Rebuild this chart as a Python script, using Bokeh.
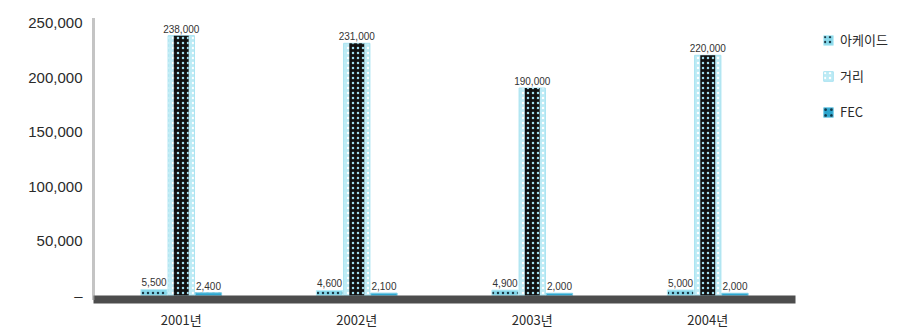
from bokeh.plotting import figure
from bokeh.models import ColumnDataSource, FactorRange, Range1d, FixedTicker, Legend, LegendItem, NumeralTickFormatter
from bokeh.transform import dodge
from bokeh.core.properties import value
from bokeh.embed import file_html
from bokeh.resources import INLINE

years = ["2001년", "2002년", "2003년", "2004년"]
series_names = ["아케이드", "거리", "FEC"]
arcade = [5500, 4600, 4900, 5000]
street = [238000, 231000, 190000, 220000]
fec = [2400, 2100, 2000, 2000]
y_ticks = [0, 50000, 100000, 150000, 200000, 250000]

FONT = "Noto Sans CJK KR"
AXFONT = "Liberation Sans"

src = ColumnDataSource(dict(
    year=years, arcade=arcade, street=street, fec=fec,
    arcade_lbl=[f"{v:,}" for v in arcade],
    street_lbl=[f"{v:,}" for v in street],
    fec_lbl=[f"{v:,}" for v in fec],
))

p = figure(x_range=FactorRange(*years, range_padding=0), y_range=Range1d(-3700, 253700),
           frame_width=702, frame_height=281, output_backend="svg", toolbar_location=None,
           min_border_left=93, min_border_top=18, min_border_bottom=32, min_border_right=0)
p.outline_line_color = None
p.xgrid.grid_line_color = None
p.ygrid.grid_line_color = None
p.background_fill_color = "white"

W = 0.15
r1 = p.vbar(x=dodge("year", -0.155, range=p.x_range), top="arcade", width=W, source=src,
            fill_color="#86d8ea", line_color="#b8ecf6", line_width=1,
            hatch_pattern="dot", hatch_color="#1a3a48", hatch_scale=5, hatch_weight=1)
r2 = p.vbar(x=dodge("year", 0.0, range=p.x_range), top="street", width=W, source=src,
            fill_color="#bdebf5", line_color="#a8e2f0", line_width=1,
            hatch_pattern="dot", hatch_color="#ffffff", hatch_scale=5, hatch_weight=1.5)
p.vbar(x=dodge("year", 0.0, range=p.x_range), top="street", width=0.085, source=src,
       fill_color="#111111", line_color=None,
       hatch_pattern="dot", hatch_color="#9fdcec", hatch_scale=5, hatch_weight=1.5)
r3 = p.vbar(x=dodge("year", 0.155, range=p.x_range), top="fec", width=W, source=src,
            fill_color="#2ba6cf", line_color="#7ccde6", line_width=1,
            hatch_pattern="dot", hatch_color="#0d3b4f", hatch_scale=6, hatch_weight=1)

for col, lbl, off in [("arcade", "arcade_lbl", -0.155), ("street", "street_lbl", 0.0), ("fec", "fec_lbl", 0.155)]:
    p.text(x=dodge("year", off, range=p.x_range), y=col, text=lbl, source=src,
           text_align="center", text_baseline="bottom", y_offset=-3,
           text_font=value(AXFONT), text_font_size="10px", text_color="#333333")

# axes
p.yaxis.ticker = FixedTicker(ticks=y_ticks)
p.yaxis.formatter = NumeralTickFormatter(format="0,0")
p.yaxis.major_label_overrides = {0: "–"}
p.yaxis.major_label_text_font = AXFONT
p.yaxis.major_label_text_font_size = "15px"
p.yaxis.major_label_text_color = "#2a2a2a"
p.yaxis.axis_line_color = "#8a8a8a"
p.yaxis.axis_line_width = 3
p.yaxis.axis_line_dash = "1 1"
p.yaxis.major_tick_line_color = None
p.yaxis.minor_tick_line_color = None
p.yaxis.major_label_standoff = 5

p.xaxis.axis_line_color = "#4d4d4d"
p.xaxis.axis_line_width = 8
p.xaxis.major_tick_line_color = None
p.xaxis.minor_tick_line_color = None
p.xaxis.major_label_text_font = FONT
p.xaxis.major_label_text_font_size = "13px"
p.xaxis.major_label_text_color = "#2a2a2a"
p.xaxis.major_label_standoff = 4

legend = Legend(items=[LegendItem(label=series_names[0], renderers=[r1]),
                       LegendItem(label=series_names[1], renderers=[r2]),
                       LegendItem(label=series_names[2], renderers=[r3])],
                location=(27, 178), border_line_color=None, background_fill_alpha=0,
                glyph_width=12, glyph_height=12, label_text_font=FONT,
                label_text_font_size="13px", label_text_color="#2a2a2a",
                spacing=17, margin=0, padding=0, label_standoff=6)
p.add_layout(legend, "right")

open("out.html", "w").write(file_html(p, INLINE))
